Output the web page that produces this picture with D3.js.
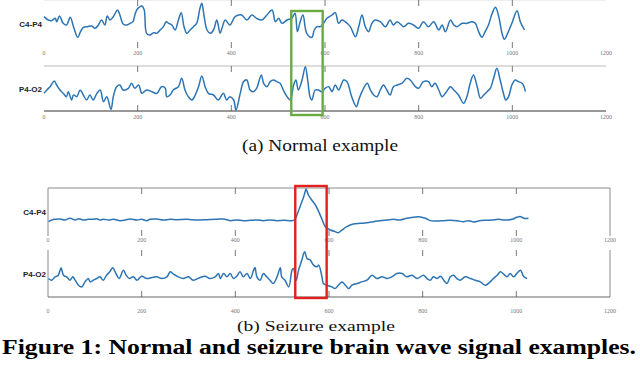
<!DOCTYPE html>
<html>
<head>
<meta charset="utf-8">
<script src="https://cdn.jsdelivr.net/npm/d3@7/dist/d3.min.js"></script>
<style>
	body { margin:0; background:#fff; }
	svg { display:block; }
	.serif { font-family: "Liberation Serif", "Times New Roman", serif; }
</style>
</head>
<body>
<div id="fig"></div>
<script>

// sample index, amplitude
const normalC4P4 = [[0,16],[9,6],[16,4],[24,11],[27,1],[33,18],[41,-4],[48,-9],[56,14],[63,-14],[72,-46],[78,-29],[84,-16],[93,-14],[102,-12],[109,-19],[116,-9],[123,6],[130,-9],[135,18],[141,6],[148,16],[157,36],[162,21],[169,-6],[177,-9],[184,-4],[190,1],[194,21],[199,38],[209,48],[214,36],[219,-34],[226,-39],[234,-32],[241,-34],[248,-24],[255,-14],[261,1],[266,-4],[273,-9],[280,-24],[287,6],[293,28],[299,-14],[305,-34],[312,-24],[319,-14],[326,-4],[333,41],[337,56],[342,16],[348,-24],[355,-34],[362,-24],[369,6],[376,-34],[380,-19],[387,6],[397,-9],[408,16],[422,21],[433,6],[444,21],[454,11],[465,6],[476,21],[487,36],[494,1],[501,11],[508,-4],[519,6],[529,11],[536,26],[541,-29],[547,1],[553,21],[561,-34],[572,-46],[577,-24],[583,-14],[590,-14],[597,-4],[604,11],[615,21],[622,28],[629,-4],[636,6],[643,1],[654,-14],[665,-44],[672,-14],[679,21],[686,-14],[693,-29],[700,-4],[707,6],[718,1],[729,-14],[739,6],[746,-9],[754,1],[768,-14],[778,-4],[789,-9],[800,-19],[810,1],[821,-14],[832,1],[843,-24],[850,-9],[857,-29],[868,6],[875,-9],[882,-14],[893,-4],[903,-4],[914,1],[921,-4],[928,-29],[935,-46],[942,-29],[949,-9],[957,26],[964,44],[971,16],[978,-34],[983,-52],[990,-34],[999,-4],[1010,34],[1017,1],[1026,-24]]

const normalP4O2 = [[0,-10],[6,0],[13,10],[22,27],[27,15],[34,0],[41,-10],[48,-20],[52,-5],[59,-30],[63,-15],[70,-20],[77,0],[84,-15],[91,-30],[98,-15],[105,-30],[113,-10],[120,0],[127,-35],[134,-20],[143,-58],[148,-20],[155,10],[162,15],[169,0],[180,5],[187,20],[194,5],[202,15],[209,-10],[219,0],[230,-5],[241,-10],[251,10],[259,5],[262,-20],[269,-15],[276,0],[287,10],[294,35],[301,0],[308,-20],[316,-30],[323,-15],[330,10],[337,42],[344,10],[351,-10],[362,-15],[372,-30],[383,-10],[390,-30],[397,-20],[405,-30],[410,-60],[419,-10],[426,25],[433,30],[440,0],[447,-5],[454,5],[464,45],[469,20],[476,10],[483,25],[490,30],[497,25],[504,20],[511,0],[519,-20],[526,-30],[533,15],[538,30],[543,0],[551,30],[558,70],[563,30],[568,-20],[572,-30],[579,0],[586,0],[593,-5],[600,5],[608,10],[615,-5],[622,15],[629,0],[640,30],[647,25],[657,-20],[667,-50],[672,-30],[679,-5],[690,20],[697,0],[704,-15],[711,-20],[718,0],[725,15],[732,0],[739,-15],[746,10],[754,15],[764,20],[775,35],[782,30],[793,10],[800,5],[810,25],[821,25],[828,10],[835,20],[843,0],[850,-20],[857,-10],[868,10],[875,0],[885,-15],[896,-40],[903,-20],[910,20],[917,45],[925,10],[932,-25],[939,-15],[946,-5],[953,5],[960,35],[967,65],[974,30],[981,-10],[986,-30],[992,-20],[999,15],[1006,30],[1013,25],[1021,20],[1028,-5]]

const seizureC4P4 = [[1,-7],[8,-2],[15,0],[26,1],[36,-2],[47,3],[58,-2],[65,2],[75,-2],[86,0],[97,0],[104,2],[111,-2],[118,0],[129,-2],[140,0],[154,-4],[165,-2],[175,1],[190,-2],[200,0],[211,-4],[218,0],[232,1],[246,-2],[261,0],[275,-1],[296,0],[318,-2],[339,-1],[360,0],[375,1],[389,-4],[403,-2],[417,-4],[432,-3],[446,-2],[460,-4],[474,-2],[489,-4],[503,-3],[521,-4],[526,-2],[533,18],[538,38],[546,68],[549,83],[551,91],[556,73],[563,58],[571,43],[578,23],[585,0],[592,-22],[603,-32],[613,-37],[620,-40],[628,-32],[638,-22],[652,-14],[667,-12],[681,-10],[695,-7],[709,-4],[724,-2],[738,0],[752,-2],[766,3],[781,6],[791,8],[806,3],[816,-4],[831,-5],[845,-4],[859,-3],[873,-4],[887,-7],[898,-4],[909,-8],[919,-5],[934,-3],[948,-2],[962,0],[976,-2],[991,0],[1001,6],[1009,8],[1016,3],[1026,3]]

const seizureP4O2 = [[1,-5],[8,-10],[15,0],[22,5],[28,27],[33,5],[40,0],[47,-10],[53,0],[58,-10],[65,-25],[72,-30],[79,-15],[86,-5],[90,-15],[97,-10],[104,-5],[111,0],[118,-10],[125,5],[132,15],[138,27],[145,10],[152,-5],[161,20],[167,5],[174,-5],[182,0],[190,-10],[200,2],[211,-5],[222,-2],[232,0],[243,-5],[254,0],[261,15],[268,8],[278,0],[289,-5],[300,0],[310,-10],[325,-2],[335,2],[346,-5],[357,0],[364,10],[368,-5],[375,10],[382,0],[389,10],[396,-5],[403,2],[410,15],[417,0],[425,10],[432,-5],[439,20],[442,28],[446,0],[453,-10],[460,10],[467,0],[474,-10],[481,-20],[489,0],[496,27],[499,0],[506,-10],[514,-30],[521,20],[524,25],[530,-10],[535,20],[542,50],[548,75],[553,55],[560,50],[567,35],[574,30],[578,35],[585,0],[588,-20],[595,-25],[606,-30],[613,-35],[620,-25],[628,-15],[635,-25],[642,-35],[649,-25],[660,-20],[670,-15],[681,-10],[692,5],[702,-5],[713,0],[724,-5],[734,0],[745,10],[756,10],[766,0],[777,5],[788,-5],[802,5],[809,-5],[816,-10],[823,0],[831,-5],[838,2],[845,-10],[852,-20],[859,0],[866,5],[873,-5],[880,-10],[891,0],[902,-5],[912,-10],[923,-15],[934,-25],[944,-15],[951,-5],[959,5],[966,15],[973,8],[980,0],[987,10],[994,0],[1001,10],[1009,20],[1016,0],[1023,-5]]

const xTicks = [0, 200, 400, 600, 800, 1000, 1200]
const channels = ['C4-P4', 'P4-O2']
const marked = [528, 595]	// highlighted sample range

const captionA = '(a)  Normal example'
const captionB = '(b)  Seizure example'
const title = 'Figure 1: Normal and seizure brain wave signal examples.'

let svg = d3.select('#fig').append('svg').attr('width', 640).attr('height', 367)

let panels = [
	{ left:44, right:606, labelX:42, boxed:false, mark:'#6aaa45', markY:[11,115],
	  rows:[ { top:0, bottom:48, y:[-66,66,44,0], data:normalC4P4, tickY:55 },
	         { top:66, bottom:111, y:[-63,72,111,66], data:normalP4O2, tickY:119 } ] },
	{ left:48, right:610, labelX:46, boxed:true, mark:'#e3211c', markY:[186,298],
	  rows:[ { top:188, bottom:236, y:[-60,94,239.3,188], data:seizureC4P4, tickY:242 },
	         { top:250, bottom:297, y:[-61,92,297.3,246], data:seizureP4O2, tickY:313 } ] }
]

panels.forEach(function(p) {
	let x = d3.scaleLinear().domain([0, 1200]).range([p.left, p.right])
	let g = svg.append('g')

	p.rows.forEach(function(r, i) {
		let y = d3.scaleLinear().domain([r.y[0], r.y[1]]).range([r.y[2], r.y[3]])

		// frame
		if (p.boxed) {
			g.append('line').attr('x1', p.left).attr('x2', p.left).attr('y1', r.top).attr('y2', r.bottom).attr('stroke', '#8a8a8a')
			g.append('line').attr('x1', p.right).attr('x2', p.right).attr('y1', r.top).attr('y2', r.bottom).attr('stroke', '#8a8a8a')
			if (i == 0) g.append('line').attr('x1', p.left).attr('x2', p.right).attr('y1', r.top).attr('y2', r.top).attr('stroke', '#8a8a8a')
			if (i == 1) g.append('line').attr('x1', p.left).attr('x2', p.right).attr('y1', r.bottom).attr('y2', r.bottom).attr('stroke', '#666')
		} else {
			if (i == 0) g.append('line').attr('x1', p.left).attr('x2', p.right).attr('y1', r.top + 0.5).attr('y2', r.top + 0.5).attr('stroke', '#eee')
			if (i == 1) {
				g.append('line').attr('x1', p.left).attr('x2', p.right).attr('y1', r.top).attr('y2', r.top).attr('stroke', '#bbb')
				g.append('line').attr('x1', p.left).attr('x2', p.right).attr('y1', r.bottom).attr('y2', r.bottom).attr('stroke', '#333')
			}
		}

		// tick marks
		xTicks.slice(1, -1).forEach(function(t) {
			g.append('line').attr('x1', x(t)).attr('x2', x(t)).attr('y1', r.top).attr('y2', r.top + 6).attr('stroke', '#555').attr('stroke-width', 0.8)
			g.append('line').attr('x1', x(t)).attr('x2', x(t)).attr('y1', r.bottom - 6).attr('y2', r.bottom).attr('stroke', '#555').attr('stroke-width', 0.8)
		})

		g.selectAll(null).data(xTicks).enter().append('text')
			.attr('class', 'serif')
			.attr('x', d => x(d)).attr('y', r.tickY)
			.attr('text-anchor', 'middle')
			.attr('font-size', 6).attr('fill', '#777')
			.text(d => d)

		g.append('text')
			.attr('x', p.labelX).attr('y', (r.top + r.bottom) / 2 + 3)
			.attr('text-anchor', 'end')
			.attr('font-family', '"Liberation Sans", Arial, sans-serif')
			.attr('font-size', 8).attr('font-weight', 'bold').attr('fill', '#222')
			.text(channels[i])

		let line = d3.line().x(d => x(d[0])).y(d => y(d[1])).curve(d3.curveCatmullRom.alpha(0.5))
		g.append('path').datum(r.data)
			.attr('d', line)
			.attr('fill', 'none').attr('stroke', '#2c74b4').attr('stroke-width', 1.5)
			.attr('stroke-linejoin', 'round')
	})

	g.append('rect')
		.attr('x', x(marked[0])).attr('y', p.markY[0])
		.attr('width', x(marked[1]) - x(marked[0])).attr('height', p.markY[1] - p.markY[0])
		.attr('fill', 'none').attr('stroke', p.mark).attr('stroke-width', 2.4)
})

svg.append('text').attr('class', 'serif')
	.attr('x', 320).attr('y', 150.5).attr('text-anchor', 'middle')
	.attr('textLength', 156).attr('lengthAdjust', 'spacingAndGlyphs')
	.attr('font-size', 16).attr('fill', '#111')
	.text(captionA)

svg.append('text').attr('class', 'serif')
	.attr('x', 316).attr('y', 331).attr('text-anchor', 'middle')
	.attr('textLength', 158).attr('lengthAdjust', 'spacingAndGlyphs')
	.attr('font-size', 15.5).attr('fill', '#111')
	.text(captionB)

svg.append('text').attr('class', 'serif')
	.attr('x', 2).attr('y', 354)
	.attr('textLength', 634).attr('lengthAdjust', 'spacingAndGlyphs')
	.attr('font-size', 20).attr('font-weight', 'bold').attr('fill', '#000')
	.text(title)

</script>
</body>
</html>
